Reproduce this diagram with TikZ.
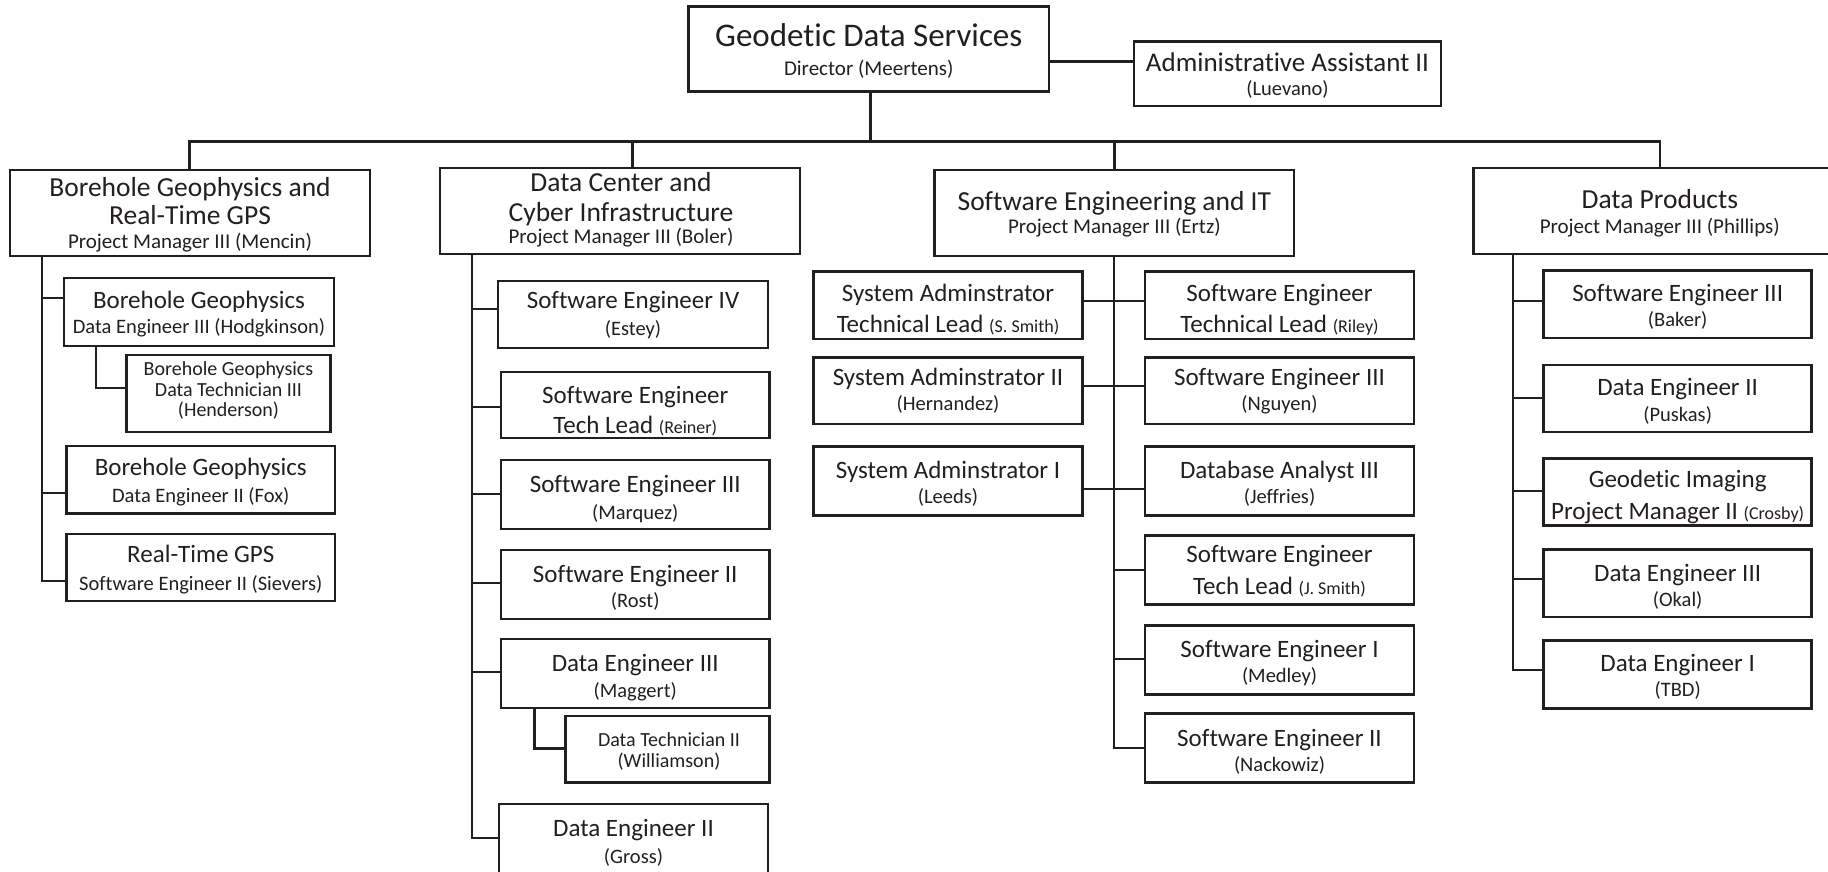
\documentclass[tikz,border=0pt]{standalone}
\usepackage{fontspec}
\setmainfont{Carlito}[Ligatures=NoCommon]
\usetikzlibrary{calc}
\definecolor{ink}{HTML}{231F20}
\newcommand\fnTop{\fontsize{33}{36}\selectfont}
\newcommand\fnHead{\fontsize{27.5}{30}\selectfont}
\newcommand\fnHeadSub{\fontsize{21}{24}\selectfont}
\newcommand\fnTitle{\fontsize{25}{28}\selectfont}
\newcommand\fnSub{\fontsize{20.5}{23}\selectfont}
\newcommand\fnSmall{\fontsize{18}{20}\selectfont}
\newcommand\fnTiny{\fontsize{20}{22}\selectfont}
\tikzset{
  orgbox/.style={draw=ink, line width=2.6pt, fill=white, inner sep=0pt, outer sep=0pt},
  conn/.style={draw=ink, line width=2.6pt},
  lbl/.style={anchor=base, inner sep=0pt, outer sep=0pt, text=ink},
}
% box with two text lines: name, x1, y1, x2, y2, base1, text1, base2, text2
\newcommand\tbox[9]{%
  \node[orgbox, minimum width={(#4)-(#2)}, minimum height={(#5)-(#3)}] (#1) at ({((#2)+(#4))/2},{((#3)+(#5))/2}) {};
  \node[lbl, font=\fnTitle] (#1-a) at ({((#2)+(#4))/2},#6) {#7};
  \node[lbl, font=\fnSub] (#1-b) at ({((#2)+(#4))/2},#8) {#9};
}
\begin{document}
\begin{tikzpicture}[x=1pt, y=-1pt]
\useasboundingbox[fill=white] (0,0) rectangle (1828,872);

% ---------- top ----------
\node[orgbox, minimum width=360.5, minimum height=85] (dir) at (868.75,49.2) {};
\node[lbl, font=\fnTop] (dir-a) at (868.75,46.7) {Geodetic Data Services};
\node[lbl, font=\fnHeadSub] (dir-b) at (868.75,75.5) {Director (Meertens)};

\node[orgbox, minimum width=307, minimum height=64.3] (adm) at (1287.5,73.85) {};
\node[lbl, font=\fontsize{27}{30}\selectfont] (adm-a) at (1287.5,71.7) {Administrative Assistant II};
\node[lbl, font=\fnSub] (adm-b) at (1287.5,96) {(Luevano)};

% ---------- level 1 ----------
\node[orgbox, minimum width=360, minimum height=86] (b1) at (190,213) {};
\node[lbl, font=\fnHead] (b1-a) at (190,196.7) {Borehole Geophysics and};
\node[lbl, font=\fnHead] (b1-b) at (190,224) {Real-Time GPS};
\node[lbl, font=\fnHeadSub] (b1-c) at (190,248) {Project Manager III (Mencin)};

\node[orgbox, minimum width=360, minimum height=86] (b2) at (620,211) {};
\node[lbl, font=\fnHead] (b2-a) at (621,191.7) {Data Center and};
\node[lbl, font=\fnHead] (b2-b) at (621,221.7) {Cyber Infrastructure};
\node[lbl, font=\fnHeadSub] (b2-c) at (621,243) {Project Manager III (Boler)};

\node[orgbox, minimum width=359.3, minimum height=86] (b3) at (1114.35,213) {};
\node[lbl, font=\fnHead] (b3-a) at (1114.35,210) {Software Engineering and IT};
\node[lbl, font=\fnHeadSub] (b3-b) at (1114.35,233) {Project Manager III (Ertz)};

\node[orgbox, minimum width=372.4, minimum height=86] (b4) at (1659.8,211) {};
\node[lbl, font=\fnHead] (b4-a) at (1659.8,208.3) {Data Products};
\node[lbl, font=\fnHeadSub] (b4-b) at (1659.8,233.3) {Project Manager III (Phillips)};

% ---------- branch 1 ----------
\tbox{hodg}{64}{278}{334}{346}{308}{Borehole Geophysics}{333}{Data Engineer III (Hodgkinson)}
\node[orgbox, minimum width=204, minimum height=77] (hend) at (228.5,393.5) {};
\node[lbl, font=\fnTiny] (hend-a) at (228.5,375) {Borehole Geophysics};
\node[lbl, font=\fnTiny] (hend-b) at (228.5,396.7) {Data Technician III};
\node[lbl, font=\fnTiny] (hend-c) at (228.5,416.7) {(Henderson)};
\tbox{fox}{66.5}{446}{335}{513.3}{475.3}{Borehole Geophysics}{502}{Data Engineer II (Fox)}
\tbox{siev}{66.5}{534}{335}{601}{562.7}{Real-Time GPS}{590}{Software Engineer II (Sievers)}

% ---------- branch 2 ----------
\tbox{estey}{498}{281}{768}{348}{308}{Software Engineer IV}{335}{(Estey)}
\tbox{reiner}{501}{372}{769.5}{438}{403}{Software Engineer}{433.5}{\fnTitle Tech Lead \fnSmall(Reiner)}
\tbox{marq}{501}{460}{769.5}{529}{492.7}{Software Engineer III}{519}{(Marquez)}
\tbox{rost}{501}{550}{769.5}{619}{582.7}{Software Engineer II}{607.7}{(Rost)}
\tbox{magg}{501}{639}{769.5}{708}{671}{Data Engineer III}{697.7}{(Maggert)}
\node[orgbox, minimum width=204, minimum height=66.7] (will) at (667.5,749.35) {};
\node[lbl, font=\fnTiny] (will-a) at (669,746) {Data Technician II};
\node[lbl, font=\fnTiny] (will-b) at (669,767.7) {(Williamson)};
\tbox{gross}{499}{804}{768}{875}{836.7}{Data Engineer II}{863}{(Gross)}

% ---------- branch 3 ----------
\tbox{sa1}{813.5}{271.7}{1082.5}{339}{301.7}{System Adminstrator}{332.7}{\fnTitle Technical Lead \fnSmall(S. Smith)}
\tbox{riley}{1145}{271.7}{1414}{339}{301.7}{Software Engineer}{332.7}{\fnTitle Technical Lead \fnSmall(Riley)}
\tbox{sa2}{813.5}{357.7}{1082.5}{424}{385}{System Adminstrator II}{410.7}{(Hernandez)}
\tbox{nguyen}{1145}{357.7}{1414}{424}{385}{Software Engineer III}{410.7}{(Nguyen)}
\tbox{sa3}{813.5}{446.7}{1082.5}{515.7}{478}{System Adminstrator I}{503}{(Leeds)}
\tbox{jeff}{1145}{446.7}{1414}{515.7}{478}{Database Analyst III}{503}{(Jeffries)}
\tbox{jsmith}{1145}{535.3}{1414}{604.3}{562.7}{Software Engineer}{594}{\fnTitle Tech Lead \fnSmall(J. Smith)}
\tbox{medley}{1145}{625.3}{1414}{694.3}{657.7}{Software Engineer I}{682.7}{(Medley)}
\tbox{nack}{1145}{713.3}{1414}{782.7}{746}{Software Engineer II}{771}{(Nackowiz)}

% ---------- branch 4 ----------
\tbox{baker}{1543.6}{270.7}{1811.7}{338}{301.7}{Software Engineer III}{326.7}{(Baker)}
\tbox{puskas}{1543.6}{365}{1811.7}{432}{395}{Data Engineer II}{421.7}{(Puskas)}
\tbox{crosby}{1543.6}{458.3}{1811.7}{525.3}{487.7}{Geodetic Imaging}{519}{\fnTitle Project Manager II \fnSmall(Crosby)}
\tbox{okal}{1543.6}{549.3}{1811.7}{617}{581}{Data Engineer III}{606}{(Okal)}
\tbox{tbd}{1543.6}{640.3}{1811.7}{708.3}{671}{Data Engineer I}{696}{(TBD)}

% ---------- connectors ----------
\coordinate (busL) at (189.5,141.7);
\coordinate (busR) at (1660,141.7);
\coordinate (bx2) at (632.5,0);
\coordinate (sp1) at (42,0);
\coordinate (sp2) at (472,0);
\coordinate (sp3) at (1114,0);
\coordinate (sp4) at (1513,0);
\coordinate (el1) at (96,0);
\coordinate (el2) at (534.5,0);

\draw[conn] (dir.east |- 0,61.7) -- (adm.west |- 0,61.7);
\draw[conn] (b1.north -| busL) -- (busL) -- (busR) -- (b4.north -| busR);
\draw[conn] (dir.south -| 870.5,0) -- (busL -| 870.5,0);
\draw[conn] (bx2 |- busL) -- (b2.north -| bx2);
\draw[conn] (b3.north) -- (b3.north |- busL);

% branch 1
\draw[conn] (b1.south -| sp1) |- (siev.west |- 0,581);
\draw[conn] (sp1 |- 0,298) -- (hodg.west |- 0,298);
\draw[conn] (sp1 |- 0,493) -- (fox.west |- 0,493);
\draw[conn] (hodg.south -| el1) |- (hend.west |- 0,388);

% branch 2
\draw[conn] (b2.south -| sp2) |- (gross.west |- 0,838);
\draw[conn] (sp2 |- 0,309) -- (estey.west |- 0,309);
\draw[conn] (sp2 |- 0,407) -- (reiner.west |- 0,407);
\draw[conn] (sp2 |- 0,494) -- (marq.west |- 0,494);
\draw[conn] (sp2 |- 0,583) -- (rost.west |- 0,583);
\draw[conn] (sp2 |- 0,672) -- (magg.west |- 0,672);
\draw[conn] (magg.south -| el2) |- (will.west |- 0,748.7);

% branch 3
\draw[conn] (b3.south -| sp3) |- (nack.west |- 0,748);
\draw[conn] (sa1.east |- 0,301) -- (riley.west |- 0,301);
\draw[conn] (sa2.east |- 0,386) -- (nguyen.west |- 0,386);
\draw[conn] (sa3.east |- 0,489) -- (jeff.west |- 0,489);
\draw[conn] (sp3 |- 0,570) -- (jsmith.west |- 0,570);
\draw[conn] (sp3 |- 0,659) -- (medley.west |- 0,659);

% branch 4
\draw[conn] (b4.south -| sp4) |- (tbd.west |- 0,670);
\draw[conn] (sp4 |- 0,301) -- (baker.west |- 0,301);
\draw[conn] (sp4 |- 0,398) -- (puskas.west |- 0,398);
\draw[conn] (sp4 |- 0,491) -- (crosby.west |- 0,491);
\draw[conn] (sp4 |- 0,579) -- (okal.west |- 0,579);
\end{tikzpicture}
\end{document}
